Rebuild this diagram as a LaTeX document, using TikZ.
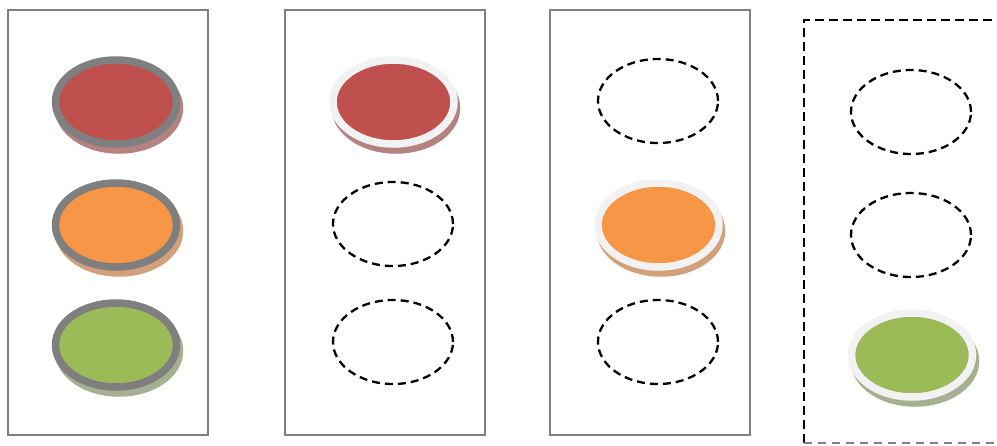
\documentclass[tikz,border=0pt]{standalone}
\usetikzlibrary{shapes.geometric}

\definecolor{boxgray}{RGB}{128,128,128}
\definecolor{ringdark}{RGB}{127,127,127}
\definecolor{ringlight}{RGB}{242,242,242}
\definecolor{lampred}{RGB}{192,80,77}
\definecolor{lamporange}{RGB}{247,150,70}
\definecolor{lampgreen}{RGB}{155,187,89}
\definecolor{shadered}{RGB}{180,130,128}
\definecolor{shadeorange}{RGB}{210,160,122}
\definecolor{shadegreen}{RGB}{164,176,143}

\tikzset{
  housing/.style={draw=boxgray, line width=1.5pt, minimum width=200pt, minimum height=425pt, inner sep=0pt},
  lamp/.style={ellipse, line width=7.5pt, minimum width=121pt, minimum height=84pt, inner sep=0pt},
  lampshade/.style={lamp, fill=#1, draw=#1},
  lampoff/.style={ellipse, draw=black, line width=2.3pt, dash pattern=on 8pt off 5pt, minimum width=120pt, minimum height=84pt, inner sep=0pt},
}

\begin{document}
\begin{tikzpicture}[x=1pt, y=-1pt]
    \clip (0,0) rectangle (997,445);

    % Housings
    \node[housing] (box1) at (108,222.5) {};
    \node[housing] (box2) at (385,222.5) {};
    \node[housing] (box3) at (650,222.5) {};

    % Last housing, cut by the frame
    \coordinate (b4bl) at (804,443);
    \coordinate (b4tl) at (804,20);
    \coordinate (b4tr) at (1010,20);
    \coordinate (b4br) at (1010,443);
    \draw[black, line width=2.8pt, dash pattern=on 9pt off 5pt] (b4bl) -- (b4tl) -- (b4tr);
    \draw[boxgray, line width=1.5pt, dash pattern=on 8pt off 6pt] (b4bl) -- (b4br);

    % Box 1: all lamps
    \node[lampshade=shadered] at (119,108) {};
    \node[lamp, draw=ringdark, fill=lampred] (red1) at (116,102) {};
    \node[lampshade=shadeorange] at (119,231) {};
    \node[lamp, draw=ringdark, fill=lamporange] (orange1) at (116,225) {};
    \node[lampshade=shadegreen] at (119,351) {};
    \node[lamp, draw=ringdark, fill=lampgreen] (green1) at (116,345) {};

    % Box 2: red
    \node[lampshade=shadered] at (396,108) {};
    \node[lamp, draw=ringlight, fill=lampred] (red2) at (393.5,102) {};
    \node[lampoff] (orange2) at (393,224) {};
    \node[lampoff] (green2) at (393,342) {};

    % Box 3: orange
    \node[lampoff] (red3) at (658,101) {};
    \node[lampshade=shadeorange] at (661,231) {};
    \node[lamp, draw=ringlight, fill=lamporange] (orange3) at (658.5,225) {};
    \node[lampoff] (green3) at (658,342) {};

    % Box 4: green
    \node[lampoff] (red4) at (911,112) {};
    \node[lampoff] (orange4) at (911,235) {};
    \node[lampshade=shadegreen] at (915,361) {};
    \node[lamp, draw=ringlight, fill=lampgreen] (green4) at (912,355) {};
\end{tikzpicture}
\end{document}
